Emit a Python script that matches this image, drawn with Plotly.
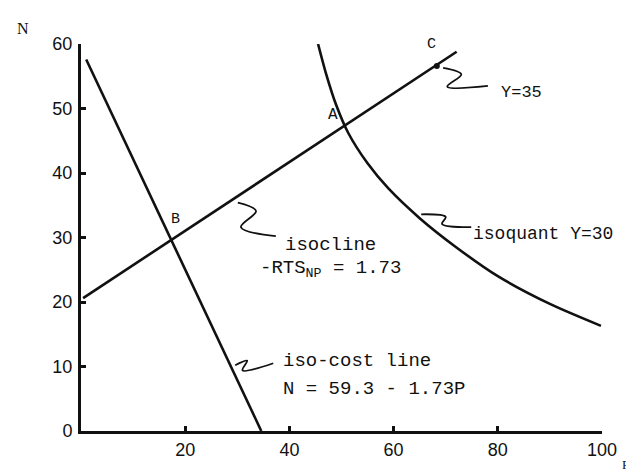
"""
Isoquant / isocline / iso-cost diagram (N vs P) with Plotly
"""
import plotly.graph_objects as go

# values
isocost_p = [1.0, 34.6]
isocost_n = [57.6, 0.0]

isocline_p = [0.4, 72.1]
isocline_n = [20.6, 58.8]

isoquant_p = [45.5, 47.0, 49.0, 51.3, 55.0, 59.0, 65.0, 72.0, 80.0, 90.0, 99.8]
isoquant_n = [60.0, 55.5, 50.5, 46.2, 41.5, 37.6, 33.0, 28.5, 24.0, 19.7, 16.3]

point_c = (68.3, 56.6)

x_ticks = [20, 40, 60, 80, 100]
y_ticks = [0, 10, 20, 30, 40, 50, 60]

# little hand-drawn "S" leaders from each label to its curve
leaders = [
    ([69.5, 73.0, 70.3, 78.1], [56.3, 55.3, 53.4, 53.5]),
    ([30.1, 33.6, 30.7, 37.4], [35.4, 34.1, 31.6, 30.2]),
    ([65.3, 70.0, 69.3, 74.9], [33.6, 33.2, 32.1, 31.6]),
    ([29.6, 31.9, 31.0, 36.9], [10.2, 10.9, 9.4, 10.5]),
]

MONO = "Liberation Mono, Courier New, monospace"
INK = "#111111"

fig = go.Figure()

line_style = dict(color=INK, width=2.6)

fig.add_trace(go.Scatter(x=isocost_p, y=isocost_n, mode="lines", line=line_style,
                         hoverinfo="skip", cliponaxis=False))
fig.add_trace(go.Scatter(x=isocline_p, y=isocline_n, mode="lines", line=line_style,
                         hoverinfo="skip", cliponaxis=False))
fig.add_trace(go.Scatter(x=isoquant_p, y=isoquant_n, mode="lines",
                         line=dict(color=INK, width=2.6, shape="spline", smoothing=0.8),
                         hoverinfo="skip", cliponaxis=False))
fig.add_trace(go.Scatter(x=[point_c[0]], y=[point_c[1]], mode="markers",
                         marker=dict(color=INK, size=6), hoverinfo="skip", cliponaxis=False))

for lx, ly in leaders:
    fig.add_trace(go.Scatter(x=lx, y=ly, mode="lines",
                             line=dict(color=INK, width=1.8, shape="spline", smoothing=1.0),
                             hoverinfo="skip", cliponaxis=False))

notes = [
    (67.2, 60.0, "C", "center", 15),
    (48.3, 49.0, "A", "center", 16),
    (18.2, 32.8, "B", "center", 15),
    (80.2, 52.5, "Y=35", "left", 17),
    (38.8, 28.9, "isocline", "left", 19),
    (34.0, 25.1, "-RTS<sub>NP</sub> = 1.73", "left", 19),
    (74.8, 30.5, "isoquant Y=30", "left", 18),
    (38.4, 10.9, "iso-cost line", "left", 19),
    (38.4, 6.5, "N = 59.3 - 1.73P", "left", 19),
]
for x, y, txt, anchor, size in notes:
    fig.add_annotation(x=x, y=y, text=txt, showarrow=False, xanchor=anchor, yanchor="middle",
                       font=dict(family=MONO, size=size, color=INK))

axis_common = dict(
    showline=True, linecolor=INK, linewidth=3, showgrid=False, zeroline=False,
    ticks="inside", ticklen=5, tickwidth=3, tickcolor=INK,
    tickfont=dict(family="Liberation Sans, Arial, sans-serif", size=18, color=INK),
    fixedrange=True,
)

L, R, T, B = 73, 40, 36, 49
W, H = 634, 472
plot_w, plot_h = W - L - R, H - T - B

# axis letters, placed in page pixels and converted to paper fractions
fig.add_annotation(x=(15 - L) / plot_w, y=(H - 20 - B) / plot_h, xref="paper", yref="paper",
                   text="N", showarrow=False, xanchor="center", yanchor="middle",
                   font=dict(family="Liberation Serif, serif", size=16, color=INK))
fig.add_annotation(x=(617 - L) / plot_w, y=(H - 456 - B) / plot_h, xref="paper", yref="paper",
                   text="P", showarrow=False, xanchor="center", yanchor="middle", borderpad=0,
                   font=dict(family="Liberation Serif, serif", size=13, color=INK))

fig.update_layout(
    width=W, height=H,
    margin=dict(l=L, r=R, t=T, b=B, autoexpand=False),
    paper_bgcolor="white", plot_bgcolor="white",
    showlegend=False,
    xaxis=dict(range=[0, 100], tickvals=x_ticks, ticklabelstandoff=0, **axis_common),
    yaxis=dict(range=[0, 60], tickvals=y_ticks, ticklabelstandoff=2, **axis_common),
)

fig.write_html("out.html")
